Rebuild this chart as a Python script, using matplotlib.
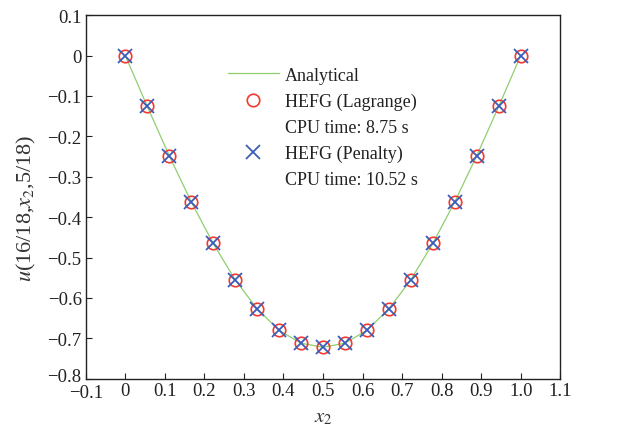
import matplotlib
matplotlib.use("Agg")
import matplotlib.pyplot as plt
import matplotlib.transforms as mtransforms
from matplotlib.lines import Line2D

plt.rcParams['font.family'] = ['Liberation Serif', 'DejaVu Serif']
plt.rcParams['mathtext.fontset'] = 'stix'

x2 = [i / 18 for i in range(19)]
half = [0.0, -0.126, -0.248, -0.362, -0.465, -0.555, -0.627, -0.680, -0.712, -0.722]
analytical = half + half[-2::-1]
lagrange = half + half[-2::-1]
penalty = half + half[-2::-1]

xticks = [-0.1, 0, 0.1, 0.2, 0.3, 0.4, 0.5, 0.6, 0.7, 0.8, 0.9, 1.0, 1.1]
xticklabels = ['\u22120.1', '0', '0.1', '0.2', '0.3', '0.4', '0.5', '0.6', '0.7', '0.8', '0.9', '1.0', '1.1']
yticks = [0.1, 0, -0.1, -0.2, -0.3, -0.4, -0.5, -0.6, -0.7, -0.8]
yticklabels = ['0.1', '0', '\u22120.1', '\u22120.2', '\u22120.3', '\u22120.4', '\u22120.5', '\u22120.6', '\u22120.7', '\u22120.8']

fig = plt.figure(figsize=(6.17, 4.35), dpi=100)
ax = fig.add_axes([0.139, 0.127, 0.769, 0.836])

ax.plot(x2, analytical, color='#8fcf6e', lw=0.9, zorder=1)
ax.plot(x2, lagrange, ls='none', marker='o', ms=9, mfc='none', mec='#f23a2e', mew=1.2, zorder=2)
ax.plot(x2, penalty, ls='none', marker='x', ms=9.5, mec='#3a5db8', mew=1.3, zorder=3)

ax.set_xlim(-0.1, 1.1)
ax.set_ylim(-0.8, 0.1)
ax.set_xticks(xticks)
ax.set_xticklabels(xticklabels)
ax.set_yticks(yticks)
ax.set_yticklabels(yticklabels)
ax.tick_params(direction='in', length=4, width=0.8, labelsize=13.5, colors='#222222')
ax.tick_params(axis='x', pad=2)
ax.tick_params(axis='y', pad=3)
for s in ax.spines.values():
    s.set_linewidth(1.0)
    s.set_color('#222222')

# nudge the corner labels apart, as in the reference
lab = ax.get_yticklabels()[-1]
lab.set_transform(lab.get_transform() + mtransforms.ScaledTranslation(0, 4 / 100, fig.dpi_scale_trans))
labx = ax.get_xticklabels()[0]
labx.set_transform(labx.get_transform() + mtransforms.ScaledTranslation(0, -2 / 100, fig.dpi_scale_trans))

ax.set_xlabel('$x_2$', fontsize=15, color='#333333')
ax.xaxis.set_label_coords(0.5, -0.078)
ax.set_ylabel('$u$(16/18,$x_2$,5/18)', fontsize=16, color='#333333')
ax.yaxis.set_label_coords(-0.1, 0.47)

handles = [
    Line2D([], [], color='#8fcf6e', lw=0.9),
    Line2D([], [], ls='none', marker='o', ms=9, mfc='none', mec='#f23a2e', mew=1.2),
    Line2D([], [], ls='none'),
    Line2D([], [], ls='none', marker='x', ms=9.5, mec='#3a5db8', mew=1.3),
    Line2D([], [], ls='none'),
]
labels = ['Analytical', 'HEFG (Lagrange)', 'CPU time: 8.75 s', 'HEFG (Penalty)', 'CPU time: 10.52 s']
leg = ax.legend(handles, labels, loc='upper left', bbox_to_anchor=(0.3, 0.858), frameon=False,
                fontsize=13, handlelength=2.8, labelspacing=0.5, handletextpad=0.35,
                borderaxespad=0, borderpad=0)
for t in leg.get_texts():
    t.set_color('#222222')

fig.savefig('out.png', dpi=100)
